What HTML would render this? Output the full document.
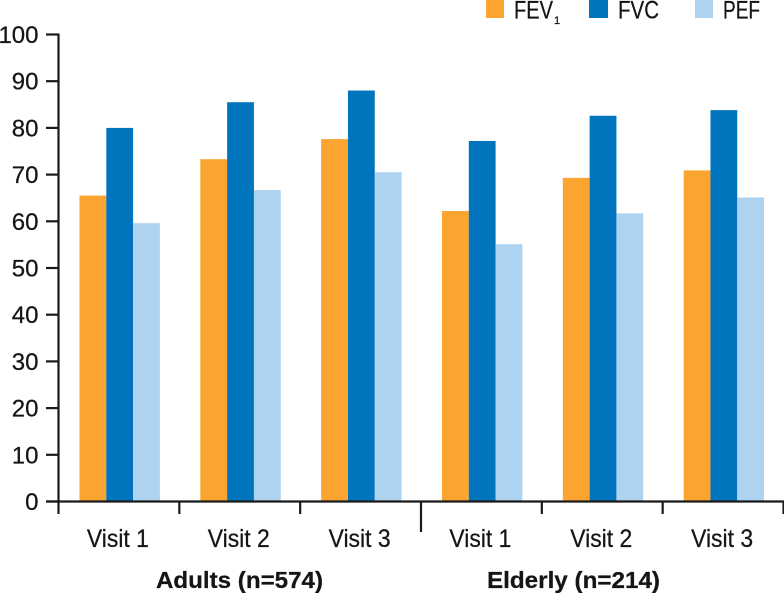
<!DOCTYPE html>
<html lang="en">
<head>
<meta charset="utf-8">
<title>FEV1, FVC and PEF by visit</title>
<style>
html,body{margin:0;padding:0;background:#fff;}
body{width:784px;height:593px;overflow:hidden;}
svg{display:block;}
text{font-family:"Liberation Sans",sans-serif;fill:#151515;stroke:#151515;stroke-width:0.25;}
</style>
</head>
<body>
<svg id="chart" xmlns="http://www.w3.org/2000/svg" width="784" height="593" viewBox="0 0 784 593">
  <g id="bars"></g>
  <g id="axes"></g>
  <g id="labels"></g>
  <g id="legend">
    <g>
      <rect x="486" y="-2" width="18" height="20" fill="#fba530"/>
      <text x="514" y="18.5" font-size="25" textLength="39" lengthAdjust="spacingAndGlyphs">FEV</text>
      <text x="554" y="24" font-size="11">1</text>
    </g>
    <g>
      <rect x="589" y="-2" width="19" height="20" fill="#0074bd"/>
      <text x="618" y="18.5" font-size="25" textLength="41" lengthAdjust="spacingAndGlyphs">FVC</text>
    </g>
    <g>
      <rect x="695" y="-2" width="18" height="20" fill="#aed3f0"/>
      <text x="723" y="18.5" font-size="25" textLength="37" lengthAdjust="spacingAndGlyphs">PEF</text>
    </g>
  </g>
</svg>
<script>
var categories = ["Visit 1", "Visit 2", "Visit 3", "Visit 1", "Visit 2", "Visit 3"];
var fev1Values = [65.5, 73.3, 77.6, 62.2, 69.3, 70.9];
var fvcValues = [80.0, 85.5, 88.0, 77.2, 82.6, 83.8];
var pefValues = [59.6, 66.7, 70.5, 55.1, 61.7, 65.1];
var yTickLabels = [0, 10, 20, 30, 40, 50, 60, 70, 80, 90, 100];
var groupNames = ["Adults (n=574)", "Elderly (n=214)"];

var NS = "http://www.w3.org/2000/svg";
var axisLeft = 58.5, axisRight = 783.5, axisBottom = 501.5, axisTop = 34.5;
var bandWidth = (axisRight - axisLeft) / categories.length;
var barWidth = 26.8, barOffset = 21;

function yScale(v) { return axisBottom - (v / 100) * (axisBottom - axisTop); }
function bandStart(i) { return axisLeft + i * bandWidth; }
function make(tag, attrs, parent) {
  var el = document.createElementNS(NS, tag);
  for (var k in attrs) el.setAttribute(k, attrs[k]);
  parent.appendChild(el);
  return el;
}

var barsG = document.getElementById("bars");
var axesG = document.getElementById("axes");
var labelsG = document.getElementById("labels");

function drawSeries(values, color, seriesName, seriesIndex) {
  values.forEach(function (v, i) {
    var top = yScale(v);
    var bar = make("rect", {
      x: bandStart(i) + barOffset + seriesIndex * barWidth,
      y: top,
      width: barWidth,
      height: axisBottom - top,
      fill: color
    }, barsG);
    
    
  });
}
drawSeries(fev1Values, "#fba530", "fev1", 0);
drawSeries(fvcValues, "#0074bd", "fvc", 1);
drawSeries(pefValues, "#aed3f0", "pef", 2);

var lineStyle = { stroke: "#1a1a1a", "stroke-width": 2.2, fill: "none" };
function line(x1, y1, x2, y2, parent) {
  return make("line", Object.assign({ x1: x1, y1: y1, x2: x2, y2: y2 }, lineStyle), parent);
}

var yAxis = line(axisLeft, axisTop - 1, axisLeft, 514, axesG);



var xAxis = line(46, axisBottom, 784, axisBottom, axesG);



yTickLabels.forEach(function (v) {
  var y = yScale(v);
  var tick = line(46, y, axisLeft, y, axesG);
  
  
  var t = make("text", { x: 38.5, y: y + 8.5, "text-anchor": "end", "font-size": 24 }, labelsG);
  t.textContent = String(v);
  
  
});

for (var i = 1; i <= categories.length; i++) {
  var isDivider = i === categories.length / 2;
  var xTick = line(bandStart(i), axisBottom, bandStart(i), isDivider ? 532 : 514, axesG);
  
  
}

categories.forEach(function (c, i) {
  var t = make("text", {
    x: bandStart(i) + bandWidth / 2 - 1,
    y: 547,
    "text-anchor": "middle",
    "font-size": 25,
    textLength: 62,
    lengthAdjust: "spacingAndGlyphs"
  }, labelsG);
  t.textContent = c;
  
  
});

var adults = make("text", { x: 156, y: 588, "font-size": 23, "font-weight": "bold", textLength: 167, lengthAdjust: "spacingAndGlyphs" }, labelsG);
adults.textContent = groupNames[0];



var elderly = make("text", { x: 487, y: 588, "font-size": 23, "font-weight": "bold", textLength: 173, lengthAdjust: "spacingAndGlyphs" }, labelsG);
elderly.textContent = groupNames[1];


</script>
</body>
</html>
